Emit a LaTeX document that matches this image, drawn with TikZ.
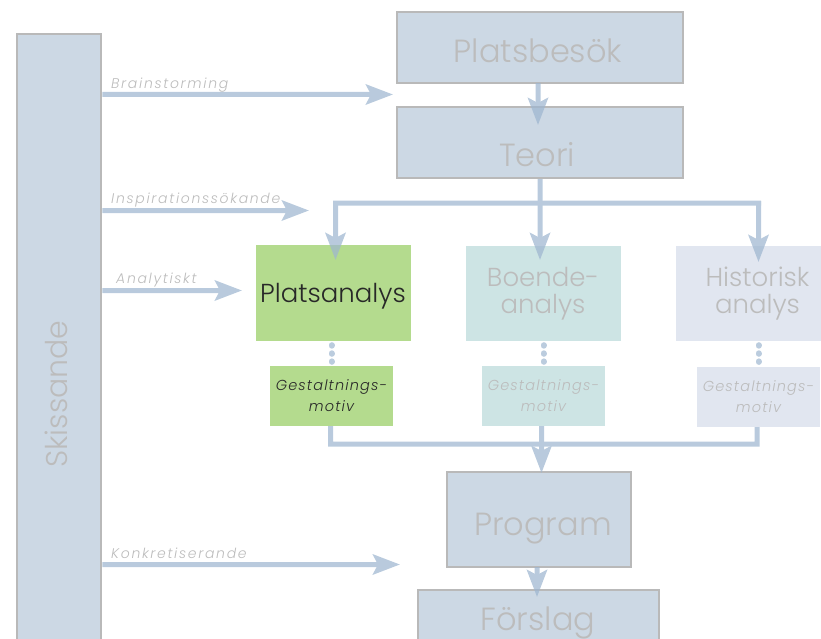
\documentclass[tikz,border=0pt]{standalone}
\usepackage{fontspec}
\setmainfont{Poppins}[UprightFont=* Light, ItalicFont=* Light Italic]
\usetikzlibrary{arrows.meta}
\definecolor{boxblue}{RGB}{204,216,228}
\definecolor{boxedge}{RGB}{185,185,185}
\definecolor{sitegreen}{RGB}{180,219,142}
\definecolor{livteal}{RGB}{205,228,228}
\definecolor{histlav}{RGB}{225,230,240}
\definecolor{flow}{RGB}{158,182,208}
\definecolor{dotcol}{RGB}{187,204,222}
\definecolor{softtext}{RGB}{188,188,188}
\definecolor{darktext}{RGB}{40,40,40}
\tikzset{
  x=1pt, y=-1pt,
  stagebox/.style={draw=boxedge, line width=2.5pt, fill=boxblue, inner sep=0pt},
  studybox/.style={inner sep=0pt},
  bigtext/.style={font=\fontsize{32}{32}\selectfont, text=softtext, inner sep=0pt, anchor=base},
  studytext/.style={font=\fontsize{26}{27}\selectfont, text=softtext, inner sep=0pt, align=center},
  motiftext/.style={font=\itshape\fontsize{14.5}{21}\selectfont\addfontfeature{LetterSpace=8}, text=softtext, inner sep=0pt, align=center},
  sidelabel/.style={font=\itshape\fontsize{14}{14}\selectfont\addfontfeature{LetterSpace=12}, text=softtext, inner sep=0pt, anchor=base west},
  flowline/.style={draw=flow, line width=5pt},
  flowarrow/.style={flowline, -{Stealth[length=27pt, width=20pt, inset=5pt]}},
  dots/.style={draw=dotcol, line width=6pt, line cap=round, dash pattern=on 0.5pt off 7.6pt, shorten <=4pt, shorten >=4pt},
}
\begin{document}
\begin{tikzpicture}
\clip (0,0) rectangle (821,639);
\useasboundingbox (0,0) rectangle (821,639);

% left process column
\node[stagebox, minimum width=84pt, minimum height=626pt] (skiss) at (59,347) {};
\node[bigtext, rotate=90, font=\fontsize{30}{30}\selectfont] (skisst) at (67,394) {Skissande};

% main stages
\node[stagebox, minimum width=286pt, minimum height=71pt] (besok) at (540,47.5) {};
\node[bigtext] (besokt) at (538,63) {Platsbesök};
\node[stagebox, minimum width=286pt, minimum height=71pt] (teori) at (540,142.5) {};
\node[bigtext] (teorit) at (537,167) {Teori};
\node[stagebox, minimum width=184pt, minimum height=95pt] (prog) at (539,519.5) {};
\node[bigtext] (progt) at (543,535) {Program};
\node[stagebox, minimum width=241pt, minimum height=100pt] (forslag) at (538.5,640) {};
\node[bigtext] (forslagt) at (538,630) {Förslag};

% the three analyses
\node[studybox, fill=sitegreen, minimum width=155pt, minimum height=96pt] (plats) at (333.5,293) {};
\node[studytext, text=darktext, anchor=base] (platst) at (333,302) {Platsanalys};
\node[studybox, fill=livteal, minimum width=155pt, minimum height=95pt] (boende) at (543.5,293.5) {};
\node[studytext] (boendet) at (543,294) {Boende-\\analys};
\node[studybox, fill=histlav, minimum width=163pt, minimum height=95pt] (hist) at (757.5,293.5) {};
\node[studytext] (histt) at (757.5,294) {Historisk\\analys};

% design motifs
\node[studybox, fill=sitegreen, minimum width=123pt, minimum height=60pt] (pmot) at (331.5,396) {};
\node[motiftext, text=darktext] at (331.5,396) {Gestaltnings-\\motiv};
\node[studybox, fill=livteal, minimum width=123pt, minimum height=60pt] (bmot) at (543.5,396) {};
\node[motiftext] at (543.5,396) {Gestaltnings-\\motiv};
\node[studybox, fill=histlav, minimum width=123pt, minimum height=60pt] (hmot) at (758.5,397) {};
\node[motiftext] at (758.5,397) {Gestaltnings-\\motiv};

% dotted links analysis -> motif
\draw[dots] (plats.south -| pmot.north) -- (pmot.north);
\draw[dots] (boende.south -| bmot.north) -- (bmot.north);
\draw[dots] (hist.south -| hmot.north) -- (hmot.north);

% free ends of the side arrows
\coordinate (brainend) at (393,94.5);
\coordinate (inspend) at (309,210.5);
\coordinate (konkend) at (400,564.5);

\begin{scope}[transparency group, opacity=0.72]
  \draw[flowarrow] (skiss.east |- brainend) -- (brainend);
  \draw[flowarrow] (skiss.east |- inspend) -- (inspend);
  \draw[flowarrow] (skiss.east |- 0,290.5) -- (242,290.5);
  \draw[flowarrow] (skiss.east |- konkend) -- (konkend);
  % stage sequence
  \draw[flowarrow] (538,83) -- (538,125);
  \draw[flowline] (teori.south) -- (540,203);
  \draw[flowline] (333,203) -- (761,203);
  \draw[flowarrow] (335.5,201) -- (335.5,260);
  \draw[flowarrow] (540,201) -- (540,260);
  \draw[flowarrow] (758.5,201) -- (758.5,262);
  % motifs gathered into the programme
  \draw[flowline] (330.5,426) -- (330.5,444) -- (757,444) -- (757,427);
  \draw[flowarrow] (541.5,426) -- (541.5,473);
  \draw[flowarrow] (537,567) -- (537,597);
\end{scope}

% side labels
\node[sidelabel] at (111,89) {Brainstorming};
\node[sidelabel] at (111,203) {Inspirationssökande};
\node[sidelabel] at (116,283) {Analytiskt};
\node[sidelabel] at (111,558) {Konkretiserande};
\end{tikzpicture}
\end{document}
